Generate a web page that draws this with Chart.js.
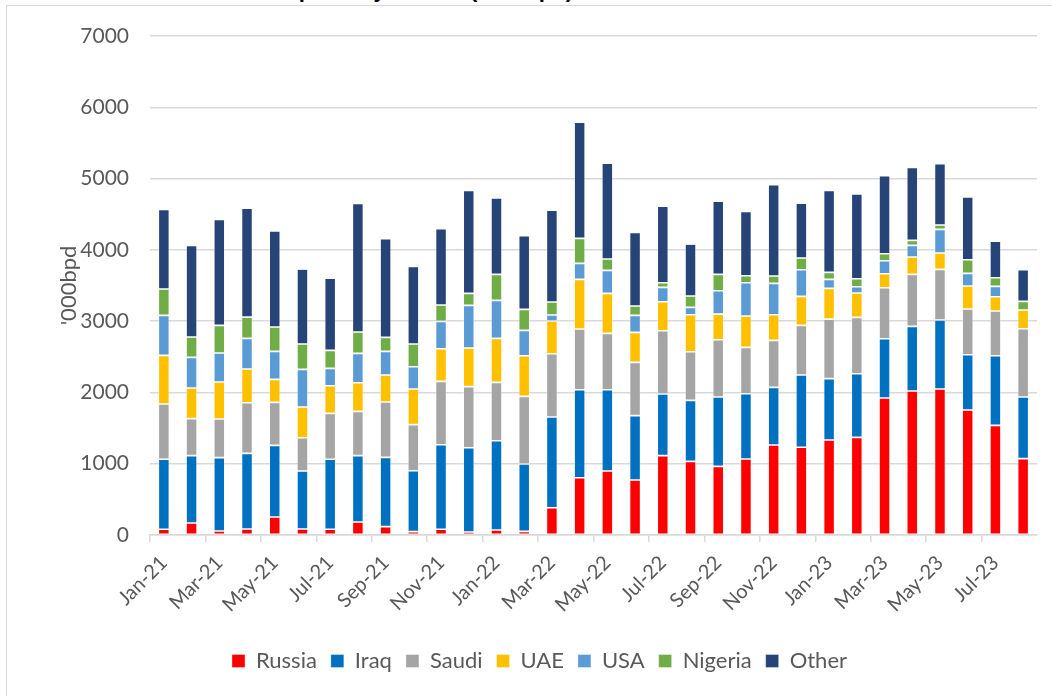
<!DOCTYPE html>
<html>
<head>
<meta charset="utf-8">
<script src="https://cdn.jsdelivr.net/npm/chart.js@4.4.0/dist/chart.umd.min.js"></script>
<style>
  body { margin: 0; background: #fff; overflow: hidden; width: 1052px; height: 696px; position: relative; }
  #title { position: absolute; top: -21px; left: 0; width: 573px; text-align: right; font: bold 22px/22px "Liberation Sans", sans-serif; white-space: nowrap; color: #000; }
  #frame { position: absolute; left: 6px; top: 5px; width: 1100px; height: 800px; border: 1.5px solid #d9d9d9; }
  #wrap { position: absolute; left: 8px; top: 7px; width: 1044px; height: 689px; }
</style>
</head>
<body>
<div id="title">Chart 5: India's crude oil imports by source ('000 bpd)</div>
<div id="frame"></div>
<div id="wrap"><canvas id="importsChart"></canvas></div>
<script>
// months, Jan-21 .. Aug-23
const months = ['Jan-21','Feb-21','Mar-21','Apr-21','May-21','Jun-21','Jul-21','Aug-21','Sep-21','Oct-21','Nov-21','Dec-21',
  'Jan-22','Feb-22','Mar-22','Apr-22','May-22','Jun-22','Jul-22','Aug-22','Sep-22','Oct-22','Nov-22','Dec-22',
  'Jan-23','Feb-23','Mar-23','Apr-23','May-23','Jun-23','Jul-23','Aug-23'];

// '000 bpd
const russia  = [80,168,56,84,252,84,80,182,117,47,80,42,70,51,383,804,898,771,1113,1033,963,1066,1262,1230,1332,1370,1921,2020,2048,1753,1538,1071];
const iraq    = [982,945,1029,1061,1005,814,982,931,972,855,1187,1183,1253,945,1272,1234,1140,903,865,856,972,916,809,1014,861,893,832,907,967,776,977,864];
const saudi   = [775,519,542,711,604,467,644,621,776,646,888,856,818,949,888,851,790,748,888,682,804,650,659,697,836,790,716,729,711,641,627,959];
const uae     = [683,430,519,472,322,430,388,402,379,500,458,542,617,570,458,697,561,420,406,519,360,440,360,406,430,341,196,243,229,322,201,262];
const usa     = [561,430,407,430,393,528,243,412,332,313,384,598,533,355,85,224,323,239,202,103,328,467,440,374,127,89,183,164,332,178,145,0];
const nigeria = [369,285,388,299,341,356,253,299,196,318,229,168,365,295,182,351,159,131,65,159,229,98,103,164,98,112,98,70,61,192,121,121];
const other   = [1118,1286,1486,1529,1347,1052,1014,1805,1384,1089,1070,1445,1071,1033,1290,1631,1346,1033,1075,729,1028,903,1281,771,1150,1188,1094,1024,860,879,514,444];

const yTicks = [0, 1000, 2000, 3000, 4000, 5000, 6000, 7000];

const textGrey = '#595959';
const font = 'Lato, "Liberation Sans", sans-serif';

function ds(label, data, color) {
  return {
    label: label,
    data: data,
    backgroundColor: color,
    borderColor: 'rgba(255,255,255,0.45)',
    borderWidth: 0.8,
    borderSkipped: false,
    barPercentage: 0.4,
    categoryPercentage: 1
  };
}

const ctx = document.getElementById('importsChart').getContext('2d');
new Chart(ctx, {
  type: 'bar',
  data: {
    labels: months,
    datasets: [
      ds('Russia', russia, '#FF0000'),
      ds('Iraq', iraq, '#0070C0'),
      ds('Saudi', saudi, '#A5A5A5'),
      ds('UAE', uae, '#FFC000'),
      ds('USA', usa, '#5B9BD5'),
      ds('Nigeria', nigeria, '#70AD47'),
      ds('Other', other, '#264478')
    ]
  },
  options: {
    responsive: true,
    maintainAspectRatio: false,
    animation: false,
    layout: { padding: { left: 34, right: 15, top: 29, bottom: 14 } },
    plugins: {
      tooltip: { enabled: false },
      legend: {
        position: 'bottom',
        labels: {
          color: textGrey,
          font: { family: font, size: 22 },
          boxWidth: 13,
          boxHeight: 13,
          padding: 14
        }
      }
    },
    scales: {
      x: {
        stacked: true,
        afterFit: s => { s.height = 101; },
        grid: {
          offset: true,
          drawOnChartArea: false,
          tickLength: 7,
          lineWidth: 1.5,
          color: c => (c.index % 2 === 0 ? '#D9D9D9' : 'rgba(0,0,0,0)')
        },
        border: { color: '#D9D9D9', width: 1.5 },
        ticks: {
          autoSkip: false,
          maxRotation: 45,
          minRotation: 45,
          padding: 9,
          color: textGrey,
          font: { family: font, size: 20 },
          callback: (v, i) => (i % 2 === 0 ? months[i] : '')
        }
      },
      y: {
        stacked: true,
        min: yTicks[0],
        max: yTicks[yTicks.length - 1],
        afterFit: s => { s.width = 108; s.paddingTop = 0; s.paddingBottom = 0; },
        afterBuildTicks: s => { s.ticks = yTicks.map(v => ({ value: v })); },
        grid: { color: '#D9D9D9', lineWidth: 1.5, drawTicks: false },
        border: { display: false },
        ticks: {
          padding: 21,
          color: textGrey,
          font: { family: font, size: 21 },
          callback: v => String(v)
        },
        title: {
          display: true,
          text: "'000bpd",
          color: textGrey,
          font: { family: font, size: 22 },
          padding: { top: 14, bottom: 0 }
        }
      }
    }
  }
});
</script>
</body>
</html>
